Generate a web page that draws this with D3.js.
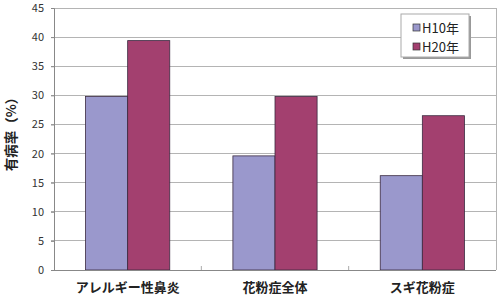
<!DOCTYPE html>
<html><head><meta charset="utf-8">
<script src="https://cdn.jsdelivr.net/npm/d3@7"></script>
<style>body{margin:0;background:#fff}svg{display:block}</style>
</head><body>
<script>
const categories = ["アレルギー性鼻炎", "花粉症全体", "スギ花粉症"];
const seriesNames = ["H10年", "H20年"];
const h10 = [29.8, 19.6, 16.2];
const h20 = [39.4, 29.8, 26.5];
const yTicks = [0, 5, 10, 15, 20, 25, 30, 35, 40, 45];
const colors = ["#9A98CC", "#A3406F"];

const W = 500, H = 298;
const m = {l: 54, r: 4, t: 8, b: 28};
const svg = d3.select("body").append("svg").attr("width", W).attr("height", H);
const font = "'Noto Sans CJK JP', 'Liberation Sans', sans-serif";

const x = d3.scaleBand().domain(categories).range([m.l, W - m.r]).paddingInner(0).paddingOuter(0);
const y = d3.scaleLinear().domain([0, 45]).range([H - m.b, m.t]);
const xs = d3.scaleBand().domain(seriesNames).range([0, x.bandwidth()]).paddingInner(0).paddingOuter(0.75);

// gridlines
svg.append("g").selectAll("line").data(yTicks.filter(d => d > 0)).join("line")
  .attr("x1", m.l - 3).attr("x2", W - m.r).attr("y1", d => y(d)).attr("y2", d => y(d))
  .attr("stroke", "#b4b4b4").attr("stroke-width", 1).attr("shape-rendering", "crispEdges");
// right border
svg.append("line").attr("x1", W - m.r).attr("x2", W - m.r).attr("y1", y(45)).attr("y2", y(0))
  .attr("stroke", "#b4b4b4").attr("shape-rendering", "crispEdges");

// bars
const data = categories.map((c, i) => ({c, vals: [h10[i], h20[i]]}));
const g = svg.append("g").selectAll("g").data(data).join("g")
  .attr("transform", d => `translate(${x(d.c)},0)`);
g.selectAll("rect").data(d => d.vals.map((v, j) => ({s: seriesNames[j], v, j}))).join("rect")
  .attr("x", d => xs(d.s)).attr("width", xs.bandwidth())
  .attr("y", d => y(d.v)).attr("height", d => y(0) - y(d.v))
  .attr("fill", d => colors[d.j]).attr("stroke", "#3a2a40").attr("stroke-width", 0.8);

// y axis
const ya = svg.append("g").attr("transform", `translate(${m.l},0)`)
  .call(d3.axisLeft(y).tickValues(yTicks).tickSize(3).tickPadding(7));
ya.select(".domain").attr("stroke", "#888");
ya.selectAll(".tick line").attr("stroke", "#888");
ya.selectAll("text").attr("font-family", font).attr("font-size", 11).attr("fill", "#333");

// x axis
svg.append("line").attr("x1", m.l - 3).attr("x2", W - m.r).attr("y1", y(0)).attr("y2", y(0))
  .attr("stroke", "#888").attr("shape-rendering", "crispEdges");
svg.append("g").selectAll("line").data(categories.slice(1)).join("line")
  .attr("x1", d => x(d)).attr("x2", d => x(d)).attr("y1", y(0) - 4).attr("y2", y(0))
  .attr("stroke", "#aaa");
svg.append("g").selectAll("text").data(categories).join("text")
  .attr("x", d => x(d) + x.bandwidth() / 2).attr("y", 292)
  .attr("text-anchor", "middle").attr("font-family", font).attr("font-weight", "bold")
  .attr("font-size", 13).attr("fill", "#222").text(d => d);

// y label
svg.append("text").attr("transform", `translate(16,${(m.t + H - m.b) / 2 - 8}) rotate(-90)`)
  .attr("text-anchor", "middle").attr("font-family", font).attr("font-weight", "bold")
  .attr("font-size", 13.5).attr("fill", "#222").text("有病率（%）");

// legend
const lg = svg.append("g").attr("transform", "translate(401,14)");
lg.append("rect").attr("x", 2).attr("y", 2).attr("width", 68).attr("height", 43).attr("fill", "#999");
lg.append("rect").attr("width", 68).attr("height", 43).attr("fill", "#fff").attr("stroke", "#aaa");
seriesNames.forEach((s, i) => {
  lg.append("rect").attr("x", 12).attr("y", 10 + i * 19).attr("width", 7).attr("height", 7)
    .attr("fill", colors[i]).attr("stroke", "#333").attr("stroke-width", 0.7);
  lg.append("text").attr("x", 21).attr("y", 18.5 + i * 19).attr("font-family", font)
    .attr("font-size", 13).attr("fill", "#222").text(s);
});
</script>
</body></html>
